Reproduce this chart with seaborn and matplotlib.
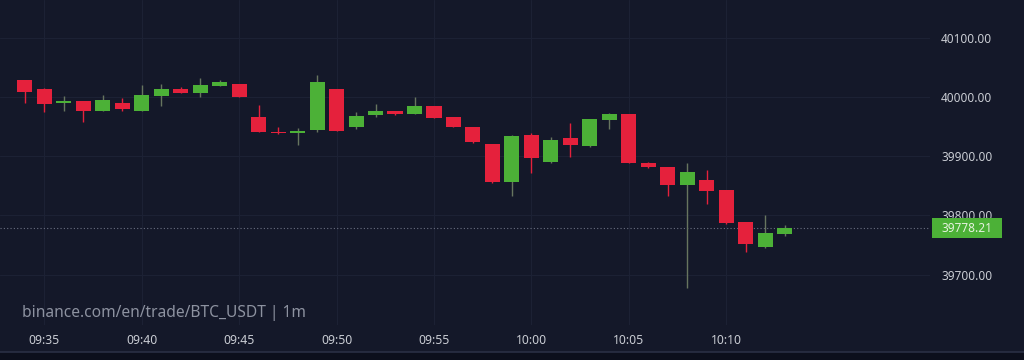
import numpy as np
import pandas as pd
import matplotlib
matplotlib.use("Agg")
import matplotlib.pyplot as plt
import matplotlib.dates as mdates
from matplotlib.patches import Rectangle
from matplotlib.transforms import blended_transform_factory
import seaborn as sns

# ---- data ----
times = ["09:34", "09:35", "09:36", "09:37", "09:38", "09:39", "09:40", "09:41", "09:42", "09:43",
         "09:44", "09:45", "09:46", "09:47", "09:48", "09:49", "09:50", "09:51", "09:52", "09:53",
         "09:54", "09:55", "09:56", "09:57", "09:58", "09:59", "10:00", "10:01", "10:02", "10:03",
         "10:04", "10:05", "10:06", "10:07", "10:08", "10:09", "10:10", "10:11", "10:12", "10:13"]
open_ = [40029, 40013, 39990, 39993, 39977, 39990, 39977, 40002, 40014, 40007,
         40019, 40022, 39966, 39941, 39940, 39945, 40013, 39950, 39969, 39976,
         39972, 39985, 39966, 39949, 39921, 39857, 39936, 39891, 39930, 39918,
         39962, 39971, 39889, 39881, 39851, 39859, 39843, 39789, 39746, 39769]
high = [40029, 40015, 40002, 39993, 40003, 39999, 40021, 40022, 40017, 40032,
        40029, 40022, 39986, 39950, 39947, 40038, 40014, 39974, 39988, 39977,
        40000, 39985, 39966, 39949, 39921, 39936, 39940, 39933, 39956, 39963,
        39973, 39971, 39890, 39881, 39888, 39876, 39843, 39789, 39801, 39784]
low = [39990, 39975, 39976, 39957, 39977, 39977, 39977, 39984, 40006, 40000,
       40019, 40000, 39941, 39938, 39919, 39941, 39943, 39946, 39966, 39970,
       39971, 39965, 39949, 39923, 39855, 39833, 39871, 39888, 39898, 39916,
       39946, 39889, 39880, 39833, 39677, 39820, 39786, 39739, 39745, 39765]
close = [40008, 39989, 39993, 39977, 39995, 39980, 40003, 40014, 40007, 40020,
         40025, 40000, 39941, 39939, 39942, 40026, 39943, 39968, 39976, 39972,
         39984, 39965, 39949, 39924, 39857, 39935, 39897, 39928, 39919, 39963,
         39971, 39889, 39882, 39852, 39874, 39842, 39787, 39752, 39770, 39778.21]
y_ticks = [39700, 39800, 39900, 40000, 40100]
x_tick_labels = ["09:35", "09:40", "09:45", "09:50", "09:55", "10:00", "10:05", "10:10"]
watermark = "binance.com/en/trade/BTC_USDT | 1m"
last_price = 39778.21

# ---- style ----
BG = "#141829"
GRID = "#1c2134"
UP = "#4cb137"
DOWN = "#e5213c"
UP_WICK = "#67755f"
TXT = "#c9ccd3"

sns.set_theme(style="dark", rc={
    "axes.facecolor": BG, "figure.facecolor": BG, "axes.edgecolor": BG,
    "grid.color": GRID, "text.color": TXT,
    "xtick.color": TXT, "ytick.color": TXT,
})
plt.rcParams["font.family"] = ["Noto Sans", "DejaVu Sans"]

df = pd.DataFrame({"time": pd.to_datetime(["2022-01-01 " + t for t in times]),
                   "open": open_, "high": high, "low": low, "close": close})
df["up"] = df["close"] >= df["open"]
x = mdates.date2num(df["time"])
minute = 1.0 / 1440.0

W, H = 1024, 360
fig = plt.figure(figsize=(W / 100, H / 100), dpi=100)
ax = fig.add_axes([0, 35 / H, 930 / W, 325 / H])
ax.set_facecolor(BG)

# grid
ax.grid(True, color=GRID, linewidth=0.8)
ax.set_axisbelow(True)

# wicks
wick_cols = [UP_WICK if u else DOWN for u in df["up"]]
ax.vlines(x, df["low"], df["high"], colors=wick_cols, linewidth=1.0, zorder=2)

# bodies
body_bot = np.minimum(df["open"], df["close"])
body_h = np.maximum(np.abs(df["close"] - df["open"]), 1.8)
body_cols = [UP if u else DOWN for u in df["up"]]
ax.bar(x, body_h, bottom=body_bot, width=0.77 * minute, color=body_cols,
       linewidth=0, zorder=3)

# last price line
ax.axhline(last_price, color="#6b7082", linewidth=0.8, linestyle=(0, (1, 2)), zorder=1)

# axes limits
t0 = mdates.date2num(pd.Timestamp("2022-01-01 09:35"))
ax.set_xlim(t0 - 2.26 * minute, t0 + 45.44 * minute)
ax.set_ylim(39614.9, 40163.9)

# y ticks on right
ax.yaxis.tick_right()
ax.set_yticks(y_ticks)
ax.set_yticklabels([f"{v:.2f}" for v in y_ticks], fontsize=8.5, color=TXT)
ax.tick_params(axis="y", length=0, pad=8)

# x ticks
xt = mdates.date2num(pd.to_datetime(["2022-01-01 " + t for t in x_tick_labels]))
ax.set_xticks(xt)
ax.set_xticklabels(x_tick_labels, fontsize=8.8, fontweight="bold", color=TXT)
ax.tick_params(axis="x", length=0, pad=6.5)
for s in ax.spines.values():
    s.set_visible(False)

# watermark
ax.text(22 / 930, 12 / 325, watermark, transform=ax.transAxes, fontsize=11.2,
        color="#8d92a0", va="center", ha="left", zorder=5)

# last price label box
tr = blended_transform_factory(fig.transFigure, ax.transData)
ax_h_px = 325
units_per_px = (40163.9 - 39614.9) / ax_h_px
box_h = 20 * units_per_px
fig_rect = Rectangle((932 / W, last_price - box_h / 2), 70 / W, box_h, transform=tr,
                     facecolor=UP, edgecolor="none", clip_on=False, zorder=6)
ax.add_artist(fig_rect)
ax.text(941 / W, last_price, f"{last_price:.2f}", transform=tr, fontsize=8.5,
        fontweight="semibold", color="#e6f2df", va="center", ha="left", zorder=7,
        clip_on=False)

# bottom frame
fig.patches.append(Rectangle((0, 0), 1, 8 / H, transform=fig.transFigure,
                             facecolor="#0c0f1c", edgecolor="none", zorder=0))
fig.lines.append(plt.Line2D([0, 1], [8 / H, 8 / H], transform=fig.transFigure,
                            color="#2a2f44", linewidth=1.2))

fig.savefig("out.png", dpi=100, facecolor=BG)
